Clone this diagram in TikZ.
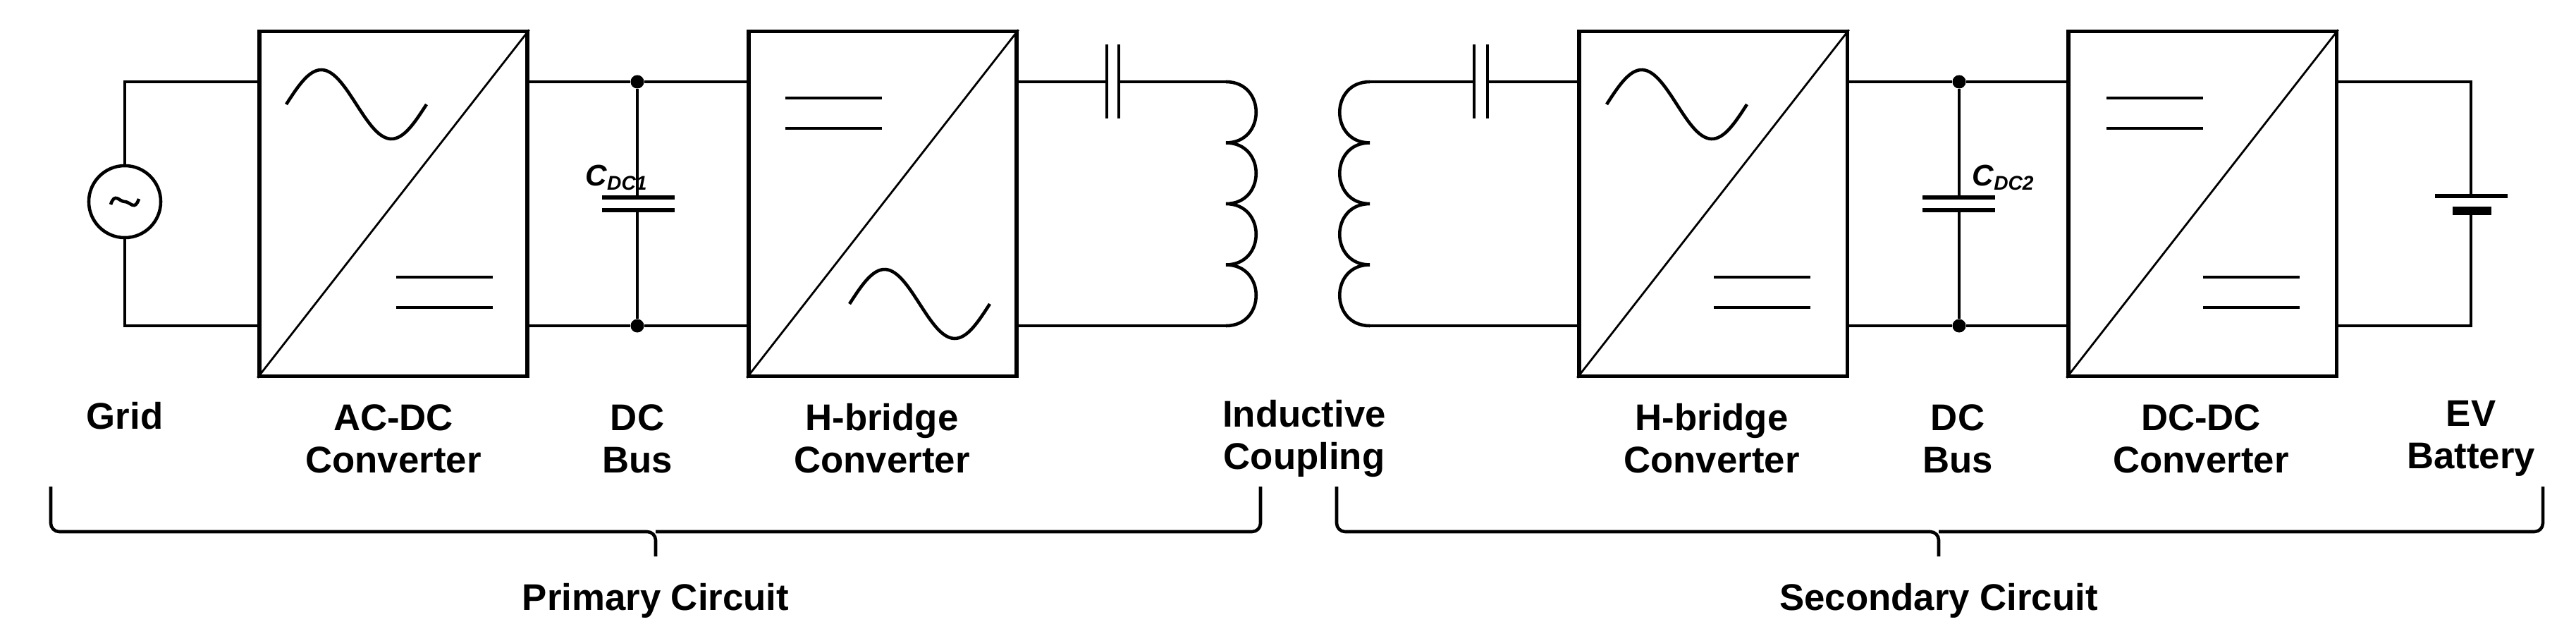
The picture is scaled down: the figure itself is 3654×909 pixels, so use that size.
\documentclass[tikz,border=0pt]{standalone}
\usepackage{fontspec}
\setmainfont{Liberation Sans}
\usetikzlibrary{positioning}

\tikzset{
	wire/.style = {line width = 1.3pt},
	conv/.style = {draw, line width = 1.5pt, minimum width = 3.8cm, minimum height = 4.88cm, inner sep = 0},
	lbl/.style = {font = \bfseries\fontsize{15}{17}\selectfont, align = center},
	dot/.style = {circle, fill, minimum size = 0.19cm, inner sep = 0},
	brace/.style = {line width = 1.3pt, rounded corners = 0.12cm}
}

% one period of a sine inside a box
\newcommand{\sinewave}[2]{\draw[wire] plot[domain = 0:360, samples = 60] ({#1 + \x / 360 * 199}, {#2 - 49 * sin(\x)});}
\newcommand{\eqsign}[2]{\draw[wire] (#1, #2) -- ++(137, 0) (#1, #2 + 43) -- ++(137, 0);}

\begin{document}
\begin{tikzpicture}[x = 0.01cm, y = -0.01cm]
	\useasboundingbox (0, 0) rectangle (3654, 909);

	% converters
	\node [conv] (acdc) at (558, 289) {};
	\node [conv] (hb1) at (1252, 289) {};
	\node [conv] (hb2) at (2430, 289) {};
	\node [conv] (dcdc) at (3124, 289) {};
	\foreach \b in {acdc,hb1,hb2,dcdc} {
		\draw [line width = 0.8pt] (\b.south west) -- (\b.north east);
	}
	\sinewave{406}{148}
	\eqsign{562}{393}
	\eqsign{1114}{139}
	\sinewave{1205}{431}
	\sinewave{2279}{148}
	\eqsign{2431}{393}
	\eqsign{2988}{139}
	\eqsign{3125}{393}

	% grid source
	\node [draw, circle, wire, minimum size = 1.02cm, inner sep = 0] (grid) at (177, 286) {};
	\draw [wire] (grid.center) ++(-20, 4) .. controls ++(6, -18) and ++(-8, 0) .. ++(20, -4) .. controls ++(8, 0) and ++(-6, 18) .. ++(20, -4);
	\coordinate (gt) at (177, 116);
	\coordinate (gb) at (177, 462);
	\draw [wire] (grid.north) -- (gt) -- (acdc.west |- gt);
	\draw [wire] (grid.south) -- (gb) -- (acdc.west |- gb);

	% DC bus 1
	\node [dot] (bt1) at (904, 116) {};
	\node [dot] (bb1) at (904, 462) {};
	\draw [wire] (acdc.east |- bt1) -- (bt1) -- (hb1.west |- bt1);
	\draw [wire] (acdc.east |- bb1) -- (bb1) -- (hb1.west |- bb1);
	\coordinate (c1a) at (904, 280);
	\coordinate (c1b) at (904, 298);
	\draw [wire] (bt1) -- (c1a) (c1b) -- (bb1);
	\draw [line width = 1.6pt] (854, 280) -- (957, 280) (854, 298) -- (957, 298);
	\node [font = \bfseries\itshape\fontsize{12}{14}\selectfont] (cdc1) at (875, 252) {C\textsubscript{DC1}};

	% DC bus 2
	\node [dot] (bt2) at (2779, 116) {};
	\node [dot] (bb2) at (2779, 462) {};
	\draw [wire] (hb2.east |- bt2) -- (bt2) -- (dcdc.west |- bt2);
	\draw [wire] (hb2.east |- bb2) -- (bb2) -- (dcdc.west |- bb2);
	\coordinate (c2a) at (2779, 280);
	\coordinate (c2b) at (2779, 298);
	\draw [wire] (bt2) -- (c2a) (c2b) -- (bb2);
	\draw [line width = 1.6pt] (2727, 280) -- (2830, 280) (2727, 298) -- (2830, 298);
	\node [font = \bfseries\itshape\fontsize{12}{14}\selectfont] (cdc2) at (2842, 252) {C\textsubscript{DC2}};

	% coupling, primary side
	\coordinate (s1a) at (1570, 116);
	\coordinate (s1b) at (1587, 116);
	\coordinate (l1t) at (1739, 116);
	\coordinate (l1b) at (1739, 462);
	\draw [wire] (hb1.east |- s1a) -- (s1a) (s1b) -- (l1t);
	\draw [line width = 1.4pt] (1570, 63) -- (1570, 168) (1587, 63) -- (1587, 168);
	\draw [wire] (l1t) \foreach \k in {1,...,4} { .. controls ++(57, 0) and ++(57, 0) .. ++(0, 86.5) };
	\draw [wire] (l1b) -- (hb1.east |- l1b);

	% coupling, secondary side
	\coordinate (s2a) at (2091, 116);
	\coordinate (s2b) at (2110, 116);
	\coordinate (l2t) at (1943, 116);
	\coordinate (l2b) at (1943, 462);
	\draw [wire] (l2t) -- (s2a) (s2b) -- (hb2.west |- s2b);
	\draw [line width = 1.4pt] (2091, 63) -- (2091, 168) (2110, 63) -- (2110, 168);
	\draw [wire] (l2t) \foreach \k in {1,...,4} { .. controls ++(-57, 0) and ++(-57, 0) .. ++(0, 86.5) };
	\draw [wire] (l2b) -- (hb2.west |- l2b);

	% battery
	\coordinate (bat1) at (3505, 278);
	\coordinate (bat2) at (3505, 305);
	\draw [wire] (dcdc.east |- gt) -- (3505, 116) -- (bat1);
	\draw [wire] (dcdc.east |- gb) -- (3505, 462) -- (bat2);
	\draw [line width = 1.6pt] (3454, 278) -- (3557, 278);
	\fill (3479, 293) rectangle (3534, 305);

	% labels
	\node [lbl] (lgrid) at (177, 590) {Grid};
	\node [lbl] (lacdc) at (558, 622) {AC-DC\\Converter};
	\node [lbl] (lbus1) at (904, 622) {DC\\Bus};
	\node [lbl] (lhb1) at (1251, 622) {H-bridge\\Converter};
	\node [lbl] (lind) at (1850, 622) {Inductive\\Coupling};
	\node [lbl] (lhb2) at (2428, 622) {H-bridge\\Converter};
	\node [lbl] (lbus2) at (2777, 622) {DC\\Bus};
	\node [lbl] (ldcdc) at (3122, 622) {DC-DC\\Converter};
	\node [lbl] (lbat) at (3505, 622) {EV\\Battery};

	% braces
	\draw [brace] (72, 690) -- (72, 754) -- (930, 754) -- (930, 789);
	\draw [brace] (1788, 690) -- (1788, 754) -- (930, 754);
	\draw [brace] (1896, 690) -- (1896, 754) -- (2750, 754) -- (2750, 789);
	\draw [brace] (3607, 690) -- (3607, 754) -- (2750, 754);
	\node [lbl] (prim) at (930, 852) {Primary Circuit};
	\node [lbl] (sec) at (2750, 852) {Secondary Circuit};
\end{tikzpicture}
\end{document}
